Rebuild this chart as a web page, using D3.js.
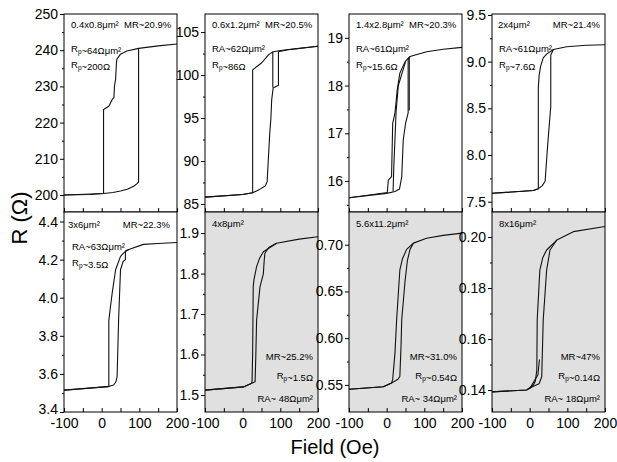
<!DOCTYPE html>
<html>
<head>
<meta charset="utf-8">
<script src="https://cdn.jsdelivr.net/npm/d3@7"></script>
<style>
  body { margin: 0; background: #fff; }
  svg { font-family: "Liberation Sans", Arial, Helvetica, sans-serif; }
  .tick line { stroke: #000; }
  .tick text { fill: #000; }
</style>
</head>
<body>
<div class="canvas"></div>
<script>
// ---- data ----
const sizes = ["0.4x0.8", "0.6x1.2", "1.4x2.8", "2x4", "3x6", "4x8", "5.6x11.2", "8x16"];
const mrValues = ["20.9%", "20.5%", "20.3%", "21.4%", "22.3%", "25.2%", "31.0%", "47%"];
const raValues = ["64", "62", "61", "61", "63", "48", "34", "18"];
const rpValues = ["200", "86", "15.6", "7.6", "3.5", "1.5", "0.54", "0.14"];
const fieldTicks = [-100, 0, 100, 200];
const fieldMinor = [-50, 50, 150];
const fieldDomain = [-100, 200];

const yDomains = [[195.3, 250], [84.07, 107.1], [15.35, 19.5], [7.39, 9.51],
                  [3.4, 4.45], [1.458, 1.952], [0.521, 0.735], [0.1314, 0.2098]];
const yMajor = [[200, 210, 220, 230, 240, 250], [85, 90, 95, 100, 105], [16, 17, 18, 19],
                [7.5, 8.0, 8.5, 9.0, 9.5], [3.4, 3.6, 3.8, 4.0, 4.2, 4.4],
                [1.5, 1.6, 1.7, 1.8, 1.9], [0.55, 0.60, 0.65, 0.70], [0.14, 0.16, 0.18, 0.20]];
const yMinor = [[205, 215, 225, 235, 245], [87.5, 92.5, 97.5, 102.5], [15.5, 16.5, 17.5, 18.5],
                [7.75, 8.25, 8.75, 9.25], [3.5, 3.7, 3.9, 4.1, 4.3],
                [1.55, 1.65, 1.75, 1.85], [0.575, 0.625, 0.675], [0.15, 0.17, 0.19]];
const yFormats = ["d", "d", "d", ".1f", ".1f", ".1f", ".2f", ".2f"];

// each panel: list of field sweeps, points are [field (Oe), R (ohm)]
const sweeps1 = [
  [[200, 241.7], [150, 241.2], [98, 240.5], [67, 239.8], [50, 238.9], [41, 237.6], [39.5, 237], [37, 232], [34, 230.1],
   [32.5, 226.9], [28, 226.4], [19, 224.5], [5, 223.6], [5, 200.4], [-30, 200.15], [-100, 200.0]],
  [[-100, 200.0], [5, 200.4], [30, 200.7], [50, 201.1], [68, 201.6], [85, 202.4], [95, 203.2], [98, 203.7], [98, 240.5]]
];
const sweeps2 = [
  [[200, 103.35], [150, 103.1], [100, 102.85], [81, 102.7], [70, 102.4], [64, 102.1], [50, 101.4], [35, 100.9],
   [26.5, 100.6], [26.5, 86.3], [0, 86.1], [-100, 85.8]],
  [[-100, 85.8], [0, 86.1], [26.5, 86.3], [45, 86.7], [60, 87.1], [65, 87.6], [68, 90.1], [72, 93.3], [75, 95],
   [77, 97.1], [81, 98.5], [95, 98.8], [95, 102.7], [120, 102.95], [200, 103.35]],
  [[80, 98.55], [80, 102.7]]
];
const sweeps3 = [
  [[200, 18.80], [150, 18.76], [106, 18.71], [62, 18.61], [49, 18.50], [40, 18.35], [35, 18.26], [28, 17.91],
   [22, 17.42], [16, 17.21], [13, 16.09], [4.4, 16.02], [1.7, 15.76], [-50, 15.70], [-100, 15.65]],
  [[-100, 15.65], [0, 15.74], [22, 15.78], [34, 15.83], [38, 16.0], [40, 16.09], [44, 16.86], [50, 17.2],
   [57, 17.43], [57, 18.55], [62, 18.61]],
  [[50, 18.5], [31, 18.0], [25, 17.45], [19, 16.3], [17, 15.78]],
  [[60, 17.48], [60, 18.58]]
];
const sweeps4 = [
  [[200, 9.18], [150, 9.175], [98, 9.16], [63, 9.13], [45, 9.08], [36, 9.04], [29, 8.95], [25, 8.85], [23, 8.72],
   [23, 7.64], [10, 7.62], [-100, 7.59]],
  [[-100, 7.59], [10, 7.62], [23, 7.64], [33, 7.67], [41, 7.72], [45, 7.95], [49, 8.17], [56, 8.52], [56, 9.07], [63, 9.13]]
];
const sweeps5 = [
  [[200, 4.29], [150, 4.285], [111, 4.28], [72, 4.253], [60, 4.238], [50, 4.217], [37, 4.147], [28, 4.025],
   [22, 3.93], [19, 3.88], [19, 3.533], [15, 3.533], [-50, 3.522], [-100, 3.515]],
  [[-100, 3.515], [15, 3.533], [32, 3.542], [38, 3.56], [41, 3.586], [45, 3.884], [50, 4.147], [57, 4.19],
   [63, 4.20], [63, 4.245], [72, 4.253]]
];
const sweeps6 = [
  [[200, 1.891], [150, 1.885], [90, 1.875], [55, 1.854], [45, 1.838], [37, 1.817], [30, 1.785], [28, 1.767],
   [26.5, 1.603], [25, 1.535], [24, 1.529], [2, 1.520], [-100, 1.512]],
  [[-100, 1.512], [2, 1.52], [24, 1.529], [33, 1.533], [35, 1.60], [37, 1.685], [46, 1.767], [55, 1.80],
   [57, 1.83], [59, 1.85], [70, 1.865], [90, 1.875]]
];
const sweeps7 = [
  [[200, 0.7124], [150, 0.710], [106, 0.707], [71, 0.7017], [53, 0.695], [42, 0.685], [35, 0.673], [26.5, 0.620],
   [22, 0.584], [16, 0.556], [13, 0.552], [-9, 0.548], [-100, 0.5454]],
  [[-100, 0.5454], [-9, 0.548], [13, 0.552], [30, 0.556], [35, 0.559], [38, 0.59], [40, 0.620], [49, 0.662],
   [55, 0.683], [62, 0.695], [71, 0.7017]]
];
const sweeps8 = [
  [[200, 0.2041], [116, 0.2021], [72, 0.1988], [45, 0.1949], [35, 0.192], [27, 0.187], [20, 0.1675], [19, 0.1478],
   [15, 0.1435], [10, 0.142], [-8, 0.140], [-100, 0.1393]],
  [[-100, 0.1393], [-8, 0.140], [10, 0.1415], [25, 0.1425], [32, 0.1452], [36, 0.1675], [45, 0.187], [54, 0.1949],
   [72, 0.1988]],
  [[0, 0.1405], [12, 0.1435], [22, 0.146], [26, 0.152]]
];
const allSweeps = [sweeps1, sweeps2, sweeps3, sweeps4, sweeps5, sweeps6, sweeps7, sweeps8];

// ---- layout ----
const colX = [64, 205, 349, 492];
const panelW = 113;
const rowY = [14, 212, 412];

const svg = d3.select('.canvas')
  .append('svg')
  .attr('width', 617)
  .attr('height', 462);

const micro = "\u03bcm\u00b2";

// text with an R_p subscript where needed
const addLabel = (g, x, y, parts, anchor) => {
  const t = g.append('text')
    .attr('x', x).attr('y', y)
    .attr('font-size', 9.5)
    .attr('text-anchor', anchor || 'start');
  parts.forEach(p => {
    if (p === 'Rp') {
      t.append('tspan').text('R');
      t.append('tspan').attr('font-size', 6.5).attr('dy', 2).text('p');
      t.append('tspan').attr('dy', -2).text('');
    } else {
      t.append('tspan').text(p);
    }
  });
};

allSweeps.forEach((sweeps, i) => {
  const col = i % 4, row = Math.floor(i / 4);
  const left = colX[col], right = left + panelW;
  const top = rowY[row], bottom = rowY[row + 1];
  const shaded = i >= 5;

  const x = d3.scaleLinear().domain(fieldDomain).range([left, right]);
  const y = d3.scaleLinear().domain(yDomains[i]).range([bottom, top]);

  const g = svg.append('g');

  g.append('rect')
    .attr('x', left).attr('y', top)
    .attr('width', panelW).attr('height', bottom - top)
    .attr('fill', shaded ? '#e0e0e0' : '#fff');

  // clip
  const clipId = 'clip' + i;
  g.append('clipPath').attr('id', clipId)
    .append('rect').attr('x', left).attr('y', top).attr('width', panelW).attr('height', bottom - top);

  const line = d3.line().x(d => x(d[0])).y(d => y(d[1]));
  g.append('g').attr('clip-path', `url(#${clipId})`)
    .selectAll('path').data(sweeps).enter().append('path')
    .attr('d', line)
    .attr('fill', 'none')
    .attr('stroke', '#111')
    .attr('stroke-width', 1.1)
    .attr('stroke-linejoin', 'round');

  // y axis
  const yAx = g.append('g').attr('transform', `translate(${left},0)`)
    .call(d3.axisLeft(y).tickValues(yMajor[i]).tickSize(4).tickPadding(2)
      .tickFormat(d3.format(yFormats[i])));
  yAx.select('.domain').remove();
  yAx.selectAll('text').attr('font-size', 14);
  // lowest label of the bottom row sits a bit higher so it clears the field labels
  if (row === 1) yAx.selectAll('text').filter(d => d === yDomains[i][0]).attr('dy', '0.1em');

  const yMin = g.append('g').attr('transform', `translate(${left},0)`)
    .call(d3.axisLeft(y).tickValues(yMinor[i]).tickSize(2).tickFormat(''));
  yMin.select('.domain').remove();

  // x axis, ticks pointing inward
  const xAx = g.append('g').attr('transform', `translate(0,${bottom})`)
    .call(d3.axisBottom(x).tickValues(fieldTicks.concat(fieldMinor)).tickSizeInner(-4).tickSizeOuter(0)
      .tickPadding(6)
      .tickFormat(d => (row === 1 && fieldTicks.includes(d)) ? String(d) : ''));
  xAx.select('.domain').remove();
  xAx.selectAll('text').attr('font-size', 14);

  // frame
  g.append('rect')
    .attr('x', left).attr('y', top)
    .attr('width', panelW).attr('height', bottom - top)
    .attr('fill', 'none').attr('stroke', '#000').attr('stroke-width', 1);

  // annotations
  const raPrefix = i === 0 ? 'Rp' : 'RA';
  if (i < 4) {
    if (i === 3) {
      addLabel(g, left + 6, top + 14, [sizes[i] + micro]);
      addLabel(g, right - 5, top + 14, ['MR~' + mrValues[i]], 'end');
    } else {
      addLabel(g, left + 7, top + 14, [sizes[i] + micro + '\u00a0 MR~' + mrValues[i]]);
    }
    addLabel(g, left + 7, top + 38, [raPrefix, '~' + raValues[i] + '\u03a9' + micro]);
    addLabel(g, left + 7, top + 54, ['Rp', '~' + rpValues[i] + '\u03a9']);
  } else if (i === 4) {
    addLabel(g, left + 4, top + 16, [sizes[i] + micro]);
    addLabel(g, right - 7, top + 16, ['MR~' + mrValues[i]], 'end');
    addLabel(g, left + 8, top + 38, ['RA~' + raValues[i] + '\u03a9' + micro]);
    addLabel(g, left + 8, top + 54, ['Rp', '~' + rpValues[i] + '\u03a9']);
  } else {
    addLabel(g, left + 7, top + 15, [sizes[i] + micro]);
    addLabel(g, right - 5, top + 148, ['MR~' + mrValues[i]], 'end');
    addLabel(g, right - 5, top + 167, ['Rp', '~' + rpValues[i] + '\u03a9'], 'end');
    addLabel(g, right - 5, top + 190, ['RA~ ' + raValues[i] + '\u03a9' + micro], 'end');
  }
});

// axis titles
svg.append('text')
  .attr('transform', 'translate(27,218) rotate(-90)')
  .attr('text-anchor', 'middle')
  .attr('font-size', 22)
  .text('R (\u03a9)');

svg.append('text')
  .attr('x', 335).attr('y', 454)
  .attr('text-anchor', 'middle')
  .attr('font-size', 20)
  .text('Field (Oe)');
</script>
</body>
</html>
